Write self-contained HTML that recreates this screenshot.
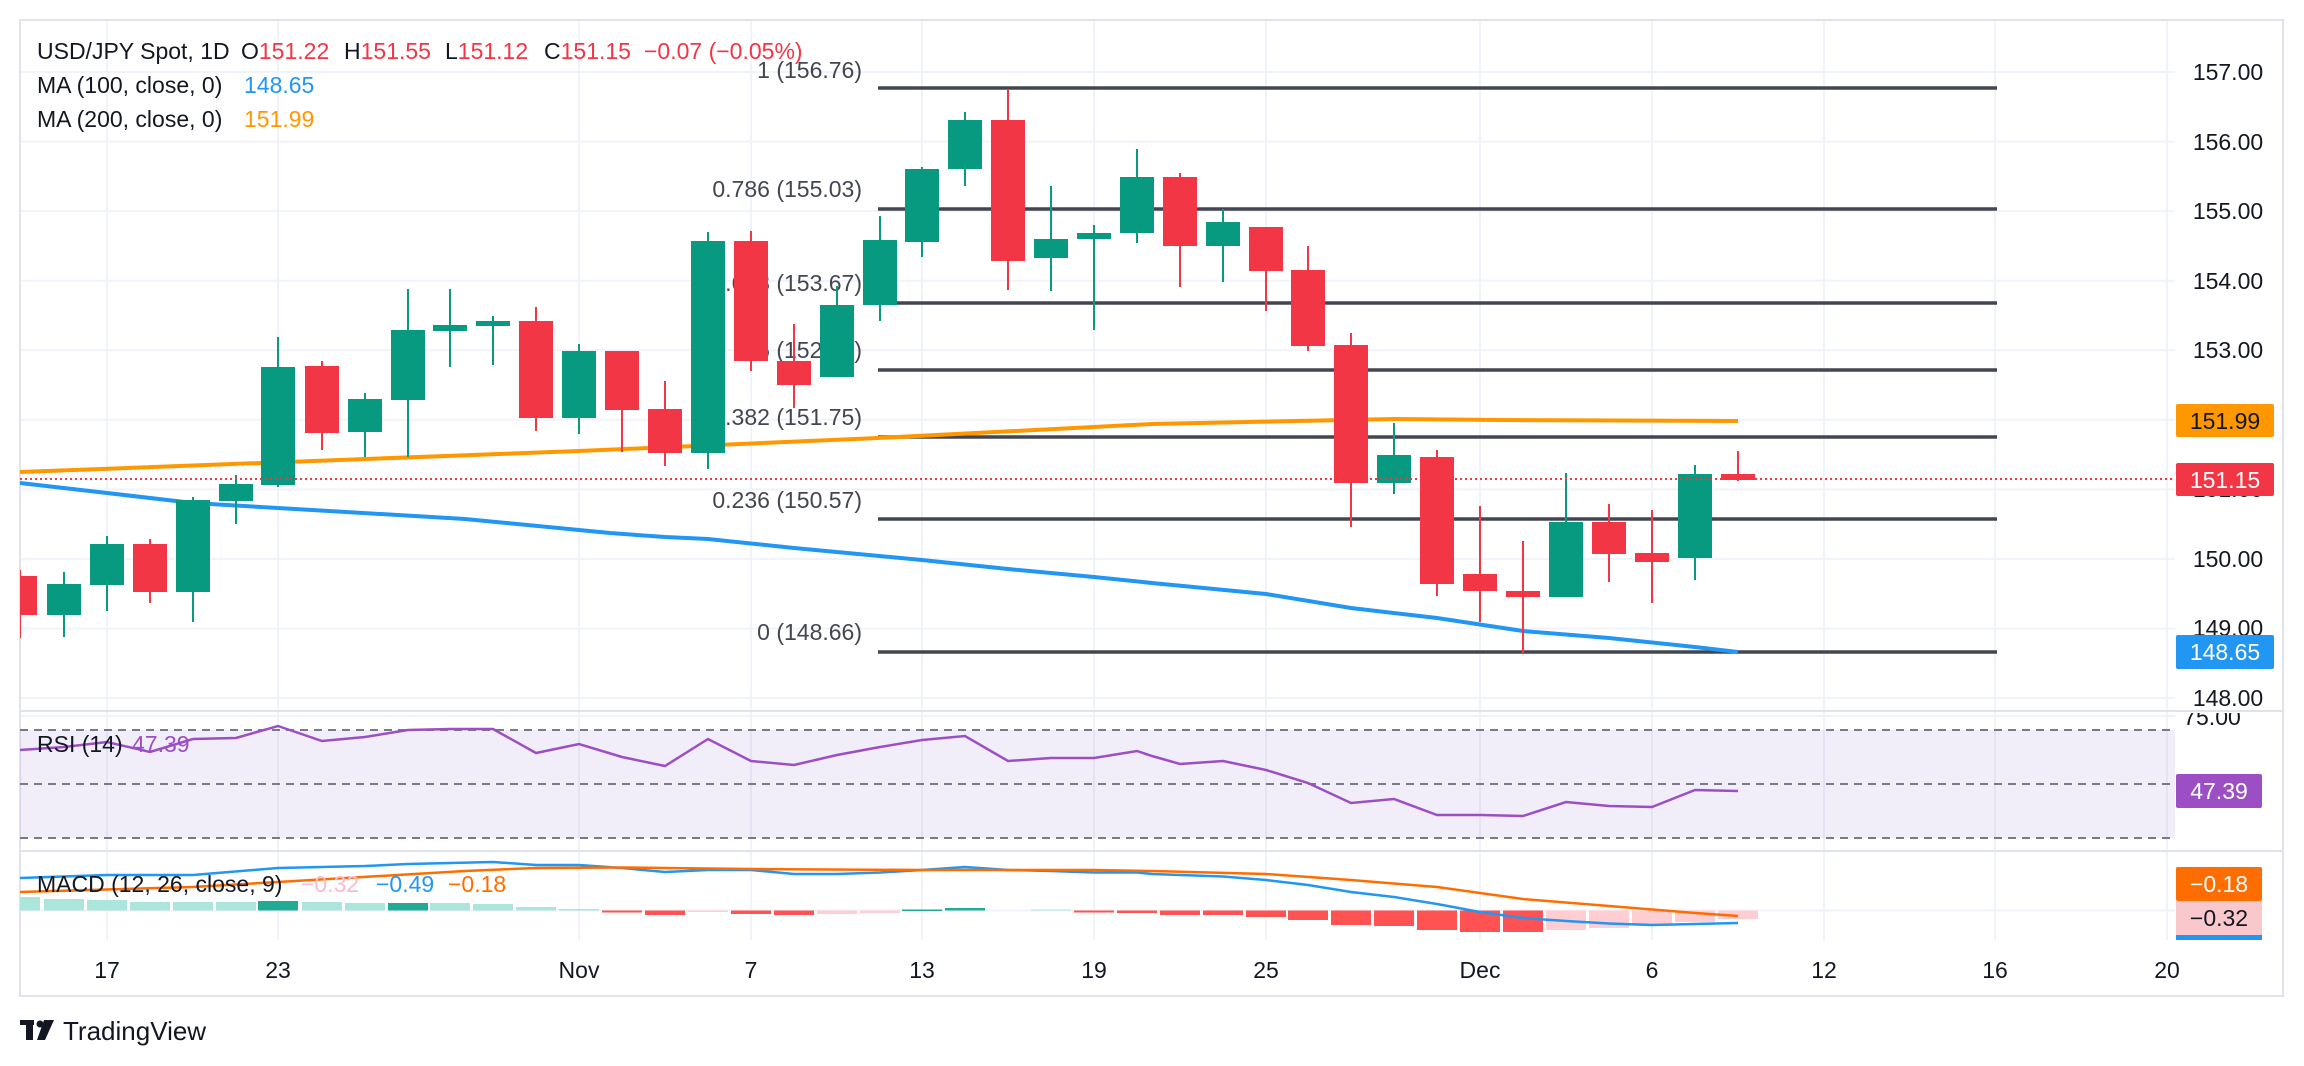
<!DOCTYPE html>
<html><head><meta charset="utf-8"><style>
html,body{margin:0;padding:0;background:#fff;}
svg{display:block;font-family:"Liberation Sans",sans-serif;}
</style></head><body>
<svg width="2304" height="1066" viewBox="0 0 2304 1066" xmlns="http://www.w3.org/2000/svg">
<defs>
<clipPath id="pc"><rect x="20" y="20" width="2155" height="690"/></clipPath>
<clipPath id="rc"><rect x="20" y="713" width="2155" height="137"/></clipPath>
<clipPath id="mc"><rect x="20" y="853" width="2155" height="87"/></clipPath>
<clipPath id="axr"><rect x="2176" y="713" width="108" height="137"/></clipPath>
</defs>
<rect width="2304" height="1066" fill="#fff"/>
<g stroke="#f0f3fa" stroke-width="2">
<line x1="107" y1="20" x2="107" y2="940"/><line x1="278" y1="20" x2="278" y2="940"/><line x1="579" y1="20" x2="579" y2="940"/><line x1="751" y1="20" x2="751" y2="940"/><line x1="922" y1="20" x2="922" y2="940"/><line x1="1094" y1="20" x2="1094" y2="940"/><line x1="1266" y1="20" x2="1266" y2="940"/><line x1="1480" y1="20" x2="1480" y2="940"/><line x1="1652" y1="20" x2="1652" y2="940"/><line x1="1824" y1="20" x2="1824" y2="940"/><line x1="1995" y1="20" x2="1995" y2="940"/><line x1="2167" y1="20" x2="2167" y2="940"/>
</g>
<g stroke="#f0f3fa" stroke-width="2">
<line x1="20" y1="72" x2="2175" y2="72"/><line x1="20" y1="141.6" x2="2175" y2="141.6"/><line x1="20" y1="211.1" x2="2175" y2="211.1"/><line x1="20" y1="280.7" x2="2175" y2="280.7"/><line x1="20" y1="350.2" x2="2175" y2="350.2"/><line x1="20" y1="419.8" x2="2175" y2="419.8"/><line x1="20" y1="489.4" x2="2175" y2="489.4"/><line x1="20" y1="558.9" x2="2175" y2="558.9"/><line x1="20" y1="628.5" x2="2175" y2="628.5"/><line x1="20" y1="698" x2="2175" y2="698"/>
<line x1="20" y1="716" x2="2175" y2="716"/><line x1="20" y1="910.5" x2="2175" y2="910.5"/>
</g>
<g stroke="#e0e3eb" stroke-width="2" fill="none">
<rect x="20" y="20" width="2263" height="976"/>
<line x1="20" y1="711" x2="2283" y2="711"/>
<line x1="20" y1="851" x2="2283" y2="851"/>
</g>

<g font-size="23" fill="#434651" text-anchor="end">
<text x="862" y="78">1 (156.76)</text>
<text x="862" y="197">0.786 (155.03)</text>
<text x="862" y="291">0.618 (153.67)</text>
<text x="862" y="358">0.5 (152.71)</text>
<text x="862" y="425">0.382 (151.75)</text>
<text x="862" y="508">0.236 (150.57)</text>
<text x="862" y="640">0 (148.66)</text>
</g>
<g stroke="#434651" stroke-width="3.5">
<line x1="878" y1="88" x2="1997" y2="88"/>
<line x1="878" y1="209" x2="1997" y2="209"/>
<line x1="878" y1="303" x2="1997" y2="303"/>
<line x1="878" y1="370" x2="1997" y2="370"/>
<line x1="878" y1="437" x2="1997" y2="437"/>
<line x1="878" y1="519" x2="1997" y2="519"/>
<line x1="878" y1="652" x2="1997" y2="652"/>
</g>

<g clip-path="url(#pc)">
<polyline fill="none" stroke="#ff9800" stroke-width="4" points="20,472 579,451 878,438 1152,424 1394,419 1500,420 1738,421"/>
<polyline fill="none" stroke="#2196f3" stroke-width="4" points="20,483 107,493 193,503 278,508 465,519 610,533 665,537 708,539 794,548 922,560 1008,569 1094,577 1152,583 1266,594 1351,608 1437,618 1523,631 1609,638 1695,647 1738,652"/>
<g fill="#f23645" stroke="#f23645" stroke-width="2">
<line x1="20" y1="570" x2="20" y2="638"/><rect x="3" y="576" width="34" height="39" stroke="none"/>
<line x1="150" y1="539" x2="150" y2="603"/><rect x="133" y="544" width="34" height="48" stroke="none"/>
<line x1="322" y1="361" x2="322" y2="450"/><rect x="305" y="366" width="34" height="67" stroke="none"/>
<line x1="536" y1="307" x2="536" y2="431"/><rect x="519" y="321" width="34" height="97" stroke="none"/>
<line x1="622" y1="351" x2="622" y2="452"/><rect x="605" y="351" width="34" height="59" stroke="none"/>
<line x1="665" y1="381" x2="665" y2="466"/><rect x="648" y="409" width="34" height="44" stroke="none"/>
<line x1="751" y1="231" x2="751" y2="371"/><rect x="734" y="241" width="34" height="120" stroke="none"/>
<line x1="794" y1="324" x2="794" y2="408"/><rect x="777" y="361" width="34" height="24" stroke="none"/>
<line x1="1008" y1="89" x2="1008" y2="290"/><rect x="991" y="120" width="34" height="141" stroke="none"/>
<line x1="1180" y1="173" x2="1180" y2="287"/><rect x="1163" y="177" width="34" height="69" stroke="none"/>
<line x1="1266" y1="227" x2="1266" y2="311"/><rect x="1249" y="227" width="34" height="44" stroke="none"/>
<line x1="1308" y1="246" x2="1308" y2="351"/><rect x="1291" y="270" width="34" height="76" stroke="none"/>
<line x1="1351" y1="333" x2="1351" y2="527"/><rect x="1334" y="345" width="34" height="138" stroke="none"/>
<line x1="1437" y1="450" x2="1437" y2="596"/><rect x="1420" y="457" width="34" height="127" stroke="none"/>
<line x1="1480" y1="506" x2="1480" y2="622"/><rect x="1463" y="574" width="34" height="17" stroke="none"/>
<line x1="1523" y1="541" x2="1523" y2="653"/><rect x="1506" y="591" width="34" height="6" stroke="none"/>
<line x1="1609" y1="504" x2="1609" y2="582"/><rect x="1592" y="522" width="34" height="32" stroke="none"/>
<line x1="1652" y1="510" x2="1652" y2="603"/><rect x="1635" y="553" width="34" height="9" stroke="none"/>
<line x1="1738" y1="451" x2="1738" y2="481"/><rect x="1721" y="474" width="34" height="6" stroke="none"/>
</g>
<g fill="#089981" stroke="#089981" stroke-width="2">
<line x1="64" y1="572" x2="64" y2="637"/><rect x="47" y="584" width="34" height="31" stroke="none"/>
<line x1="107" y1="536" x2="107" y2="611"/><rect x="90" y="544" width="34" height="41" stroke="none"/>
<line x1="193" y1="497" x2="193" y2="622"/><rect x="176" y="500" width="34" height="92" stroke="none"/>
<line x1="236" y1="475" x2="236" y2="524"/><rect x="219" y="484" width="34" height="17" stroke="none"/>
<line x1="278" y1="337" x2="278" y2="487"/><rect x="261" y="367" width="34" height="118" stroke="none"/>
<line x1="365" y1="393" x2="365" y2="457"/><rect x="348" y="399" width="34" height="33" stroke="none"/>
<line x1="408" y1="289" x2="408" y2="457"/><rect x="391" y="330" width="34" height="70" stroke="none"/>
<line x1="450" y1="289" x2="450" y2="367"/><rect x="433" y="325" width="34" height="6" stroke="none"/>
<line x1="493" y1="316" x2="493" y2="365"/><rect x="476" y="321" width="34" height="5" stroke="none"/>
<line x1="579" y1="344" x2="579" y2="434"/><rect x="562" y="351" width="34" height="67" stroke="none"/>
<line x1="708" y1="232" x2="708" y2="469"/><rect x="691" y="241" width="34" height="212" stroke="none"/>
<line x1="837" y1="286" x2="837" y2="377"/><rect x="820" y="305" width="34" height="72" stroke="none"/>
<line x1="880" y1="216" x2="880" y2="321"/><rect x="863" y="240" width="34" height="65" stroke="none"/>
<line x1="922" y1="167" x2="922" y2="257"/><rect x="905" y="169" width="34" height="73" stroke="none"/>
<line x1="965" y1="112" x2="965" y2="186"/><rect x="948" y="120" width="34" height="49" stroke="none"/>
<line x1="1051" y1="186" x2="1051" y2="291"/><rect x="1034" y="239" width="34" height="19" stroke="none"/>
<line x1="1094" y1="225" x2="1094" y2="330"/><rect x="1077" y="233" width="34" height="6" stroke="none"/>
<line x1="1137" y1="149" x2="1137" y2="243"/><rect x="1120" y="177" width="34" height="56" stroke="none"/>
<line x1="1223" y1="209" x2="1223" y2="282"/><rect x="1206" y="222" width="34" height="24" stroke="none"/>
<line x1="1394" y1="423" x2="1394" y2="494"/><rect x="1377" y="455" width="34" height="28" stroke="none"/>
<line x1="1566" y1="473" x2="1566" y2="597"/><rect x="1549" y="522" width="34" height="75" stroke="none"/>
<line x1="1695" y1="465" x2="1695" y2="580"/><rect x="1678" y="474" width="34" height="84" stroke="none"/>
</g>
</g>
<line x1="20" y1="479" x2="2175" y2="479" stroke="#f23645" stroke-width="2" stroke-dasharray="2 3"/>

<g font-size="23">
<text x="37" y="59" fill="#131722">USD/JPY Spot, 1D</text>
<text y="59" fill="#131722"><tspan x="241">O</tspan><tspan fill="#f23645">151.22</tspan><tspan x="344">H</tspan><tspan fill="#f23645">151.55</tspan><tspan x="445">L</tspan><tspan fill="#f23645">151.12</tspan><tspan x="544">C</tspan><tspan fill="#f23645">151.15</tspan><tspan x="644" fill="#f23645">−0.07 (−0.05%)</tspan></text>
<text x="37" y="93" fill="#131722">MA (100, close, 0)</text><text x="244" y="93" fill="#2196f3">148.65</text>
<text x="37" y="127" fill="#131722">MA (200, close, 0)</text><text x="244" y="127" fill="#ff9800">151.99</text>
</g>

<g font-size="23" fill="#131722" text-anchor="middle">
<text x="2228" y="80">157.00</text>
<text x="2228" y="150">156.00</text>
<text x="2228" y="219">155.00</text>
<text x="2228" y="289">154.00</text>
<text x="2228" y="358">153.00</text>
<text x="2228" y="497">151.00</text>
<text x="2228" y="567">150.00</text>
<text x="2228" y="636">149.00</text>
<text x="2228" y="706">148.00</text>
</g>
<rect x="2176" y="404" width="98" height="33" rx="2" fill="#ff9800"/>
<text x="2225" y="429" font-size="23" fill="#131722" text-anchor="middle">151.99</text>
<rect x="2176" y="463" width="98" height="33" rx="2" fill="#f23645"/>
<text x="2225" y="488" font-size="23" fill="#fff" text-anchor="middle">151.15</text>
<rect x="2176" y="635" width="98" height="34" rx="2" fill="#2196f3"/>
<text x="2225" y="660" font-size="23" fill="#fff" text-anchor="middle">148.65</text>

<rect x="20" y="730" width="2155" height="108" fill="#7e57c2" fill-opacity="0.1"/>
<g stroke="#787b86" stroke-width="2" stroke-dasharray="8 6">
<line x1="20" y1="730" x2="2175" y2="730"/>
<line x1="20" y1="784" x2="2175" y2="784"/>
<line x1="20" y1="838" x2="2175" y2="838"/>
</g>
<polyline clip-path="url(#rc)" fill="none" stroke="#9c4fc4" stroke-width="2.5" points="20,750 64,747 107,742 150,752 193,739 236,738 278,726 322,741 365,737 408,730 450,729 493,729 536,753 579,744 622,757 665,766 708,739 751,761 794,765 837,755 880,747 922,740 965,736 1008,761 1051,758 1094,758 1137,751 1152,756 1180,764 1223,761 1266,770 1308,783 1351,803 1394,799 1437,815 1480,815 1523,816 1566,802 1609,806 1652,807 1695,790 1738,791"/>
<text x="37" y="752" font-size="23" fill="#131722">RSI (14)</text><text x="132" y="752" font-size="23" fill="#9c4fc4">47.39</text>
<g clip-path="url(#axr)"><text x="2212" y="725" font-size="23" fill="#131722" text-anchor="middle">75.00</text></g>
<rect x="2176" y="774" width="86" height="34" rx="2" fill="#9c4fc4"/>
<text x="2219" y="799" font-size="23" fill="#fff" text-anchor="middle">47.39</text>

<g clip-path="url(#mc)">
<g fill="#ace5dc">
<rect x="0" y="897" width="40" height="13.5"/><rect x="44" y="899" width="40" height="11.5"/><rect x="87" y="900" width="40" height="10.5"/><rect x="130" y="902" width="40" height="8.5"/><rect x="173" y="902" width="40" height="8.5"/><rect x="216" y="902" width="40" height="8.5"/>
<rect x="302" y="902" width="40" height="8.5"/><rect x="345" y="903" width="40" height="7.5"/><rect x="430" y="903" width="40" height="7.5"/><rect x="473" y="904" width="40" height="6.5"/><rect x="516" y="907" width="40" height="3.5"/><rect x="559" y="909" width="40" height="1.5"/><rect x="1031" y="909.5" width="40" height="1"/>
</g>
<g fill="#22ab94">
<rect x="258" y="901" width="40" height="9.5"/><rect x="388" y="903" width="40" height="7.5"/><rect x="902" y="909.5" width="40" height="1.5"/><rect x="945" y="908" width="40" height="2.5"/>
</g>
<g fill="#ff5252">
<rect x="602" y="910.5" width="40" height="2"/><rect x="645" y="910.5" width="40" height="4.5"/><rect x="731" y="910.5" width="40" height="3.5"/><rect x="774" y="910.5" width="40" height="4.5"/><rect x="1074" y="910.5" width="40" height="2"/><rect x="1117" y="910.5" width="40" height="2.5"/>
<rect x="1160" y="910.5" width="40" height="4.5"/><rect x="1203" y="910.5" width="40" height="4.5"/><rect x="1246" y="910.5" width="40" height="6.5"/><rect x="1288" y="910.5" width="40" height="9.5"/><rect x="1331" y="910.5" width="40" height="14.5"/><rect x="1374" y="910.5" width="40" height="15.5"/><rect x="1417" y="910.5" width="40" height="19.5"/><rect x="1460" y="910.5" width="40" height="21.5"/><rect x="1503" y="910.5" width="40" height="21.5"/>
</g>
<g fill="#ffcdd2">
<rect x="688" y="910.5" width="40" height="1.5"/><rect x="817" y="910.5" width="40" height="3.5"/><rect x="860" y="910.5" width="40" height="2.5"/>
<rect x="1546" y="910.5" width="40" height="19.5"/><rect x="1589" y="910.5" width="40" height="17.5"/><rect x="1632" y="910.5" width="40" height="13.5"/><rect x="1675" y="910.5" width="40" height="11.5"/><rect x="1718" y="910.5" width="40" height="8.5"/>
</g>
<polyline fill="none" stroke="#2196f3" stroke-width="2.5" points="20,878 107,875 193,875 278,868 365,866 408,864 493,862 536,865 579,865 622,868 665,872 708,870 751,870 794,874 837,874 880,872.5 922,870 965,867 1008,870 1051,871 1094,872.5 1137,872.5 1152,874 1223,876.5 1266,880 1308,885 1351,892 1394,897 1437,904 1480,912 1523,918 1566,921 1609,923.5 1652,925 1695,924 1738,923"/>
<polyline fill="none" stroke="#ff6d00" stroke-width="2.5" points="20,892 193,887 278,882 465,871 536,868 622,867.5 751,869 922,870 1094,870 1152,871 1266,874 1351,880 1437,887 1523,899 1609,906 1695,913 1738,916"/>
</g>
<g font-size="23">
<text x="37" y="892" fill="#131722">MACD (12, 26, close, 9)</text>
<text x="301" y="892" fill="#f8bbd0">−0.32</text>
<text x="376" y="892" fill="#2196f3">−0.49</text>
<text x="448" y="892" fill="#ff6d00">−0.18</text>
</g>
<rect x="2176" y="867" width="86" height="34" rx="2" fill="#ff6d00"/>
<text x="2219" y="892" font-size="23" fill="#fff" text-anchor="middle">−0.18</text>
<rect x="2176" y="901" width="86" height="34" fill="#f8c8cc"/>
<text x="2219" y="926" font-size="23" fill="#131722" text-anchor="middle">−0.32</text>
<rect x="2176" y="935" width="86" height="5" fill="#2196f3"/>

<g font-size="23" fill="#131722" text-anchor="middle">
<text x="107" y="978">17</text><text x="278" y="978">23</text><text x="579" y="978">Nov</text><text x="751" y="978">7</text><text x="922" y="978">13</text><text x="1094" y="978">19</text><text x="1266" y="978">25</text><text x="1480" y="978">Dec</text><text x="1652" y="978">6</text><text x="1824" y="978">12</text><text x="1995" y="978">16</text><text x="2167" y="978">20</text>
</g>

<g fill="#131722">
<rect x="20" y="1020" width="14" height="5"/>
<rect x="26" y="1020" width="7" height="20"/>
<circle cx="40" cy="1024" r="3.5"/>
<polygon points="44,1020 54,1020 45,1040 37,1040"/>
</g>
<text x="63" y="1040" font-size="26" fill="#131722">TradingView</text>
</svg>
</body></html>
